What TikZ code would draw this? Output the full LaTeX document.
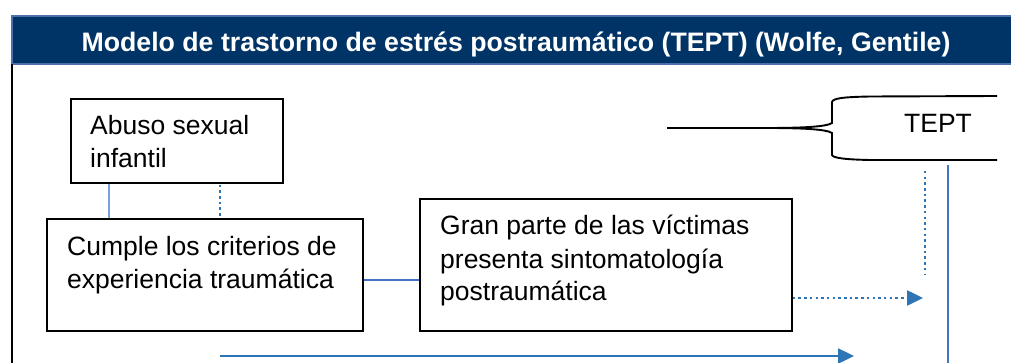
\documentclass[tikz,border=0pt]{standalone}
\usepackage{fontspec}
\setmainfont{Liberation Sans}
\usetikzlibrary{arrows.meta,calc}
\definecolor{titleblue}{HTML}{003366}
\definecolor{titleborder}{HTML}{4F6FA8}
\definecolor{lightline}{HTML}{7AA0DC}
\definecolor{midline}{HTML}{4472C4}
\definecolor{arrowblue}{HTML}{2E75B6}
\tikzset{
  box/.style={draw=black, line width=1.7pt, rectangle, inner sep=0pt, anchor=north west},
  boxtext/.style={anchor=base west, inner sep=0pt, font=\fontsize{26.5}{33}\selectfont},
  solidconn/.style={draw=lightline, line width=1.5pt},
  midconn/.style={draw=midline, line width=1.4pt},
  dotconn/.style={draw=arrowblue, line width=2.5pt, dash pattern=on 2.5pt off 3.2pt},
  arrowconn/.style={draw=arrowblue, line width=2.4pt},
  tipA/.style={-{Triangle[length=16pt,width=15pt,fill=arrowblue]}},
  bracepath/.style={draw=black, line width=1.9pt}
}
\begin{document}
\begin{tikzpicture}[x=1pt,y=-1pt]
\useasboundingbox (0,0) rectangle (1011,363);
% title bar
\node[fill=titleblue, draw=titleborder, line width=2pt, rectangle, inner sep=0pt,
      minimum width=1010pt, minimum height=48pt, anchor=north west] (bar) at (11,15) {};
\node[anchor=base, inner sep=0pt, text=white, font=\bfseries\fontsize{26.7}{30}\selectfont] (title) at (516,52)
  {Modelo de trastorno de estrés postraumático (TEPT) (Wolfe, Gentile)};
% left frame line
\coordinate (lf1) at (12,64);
\coordinate (lf2) at (12,363);
\draw[black, line width=1.6pt] (lf1) -- (lf2);
% boxes
\node[box, minimum width=212pt, minimum height=84pt] (abuso) at (70,98) {};
\node[boxtext] (abusot) at ($(abuso.north west)+(20,37)$)
  {\begin{tabular}[t]{@{}l@{}}Abuso sexual\\infantil\end{tabular}};
\node[box, minimum width=316pt, minimum height=112pt] (cumple) at (46,218) {};
\node[boxtext] (cumplet) at ($(cumple.north west)+(21,37)$)
  {\begin{tabular}[t]{@{}l@{}}Cumple los criterios de\\experiencia traumática\end{tabular}};
\node[box, minimum width=372pt, minimum height=132pt] (gran) at (419,198) {};
\node[boxtext] (grant) at ($(gran.north west)+(21,37)$)
  {\begin{tabular}[t]{@{}l@{}}Gran parte de las víctimas\\presenta sintomatología\\postraumática\end{tabular}};
% connectors between abuso and cumple
\draw[solidconn] ($(abuso.south west)+(39,0)$) -- ($(cumple.north west)+(63,0)$);
\draw[dotconn] ($(abuso.south west)+(150,1)$) -- ($(cumple.north west)+(174,-1)$);
% cumple to gran
\coordinate (cg) at (0,280);
\draw[midconn] (cumple.east |- cg) -- (gran.west |- cg);
% dotted arrow
\coordinate (dtip) at (923,298);
\draw[dotconn, tipA] (gran.east |- dtip) -- (dtip);
% bottom arrow
\coordinate (bstart) at (220,356);
\coordinate (btip) at (854,356);
\draw[arrowconn, tipA] (bstart) -- (btip);
% verticals on the right
\coordinate (dv1) at (925,171);
\coordinate (dv2) at (925,274);
\draw[dotconn] (dv1) -- (dv2);
\coordinate (sv1) at (948,165);
\coordinate (sv2) at (948,363);
\draw[midconn] (sv1) -- (sv2);
% brace
\coordinate (br0) at (667,128);
\coordinate (brT) at (997,96);
\coordinate (brB) at (997,160);
\draw[bracepath] (br0) -- (765,128)
  .. controls (800,128) and (826,127) .. (832,123) -- (832,102)
  .. controls (833,98) and (845,97) .. (870,96.5) -- (brT);
\draw[bracepath] (765,128)
  .. controls (800,128) and (826,129) .. (832,133) -- (832,155)
  .. controls (833,158) and (845,159.5) .. (870,160) -- (brB);
\node[anchor=base, inner sep=0pt, font=\fontsize{26.5}{30}\selectfont] (tept) at (938,133) {TEPT};
\end{tikzpicture}
\end{document}
